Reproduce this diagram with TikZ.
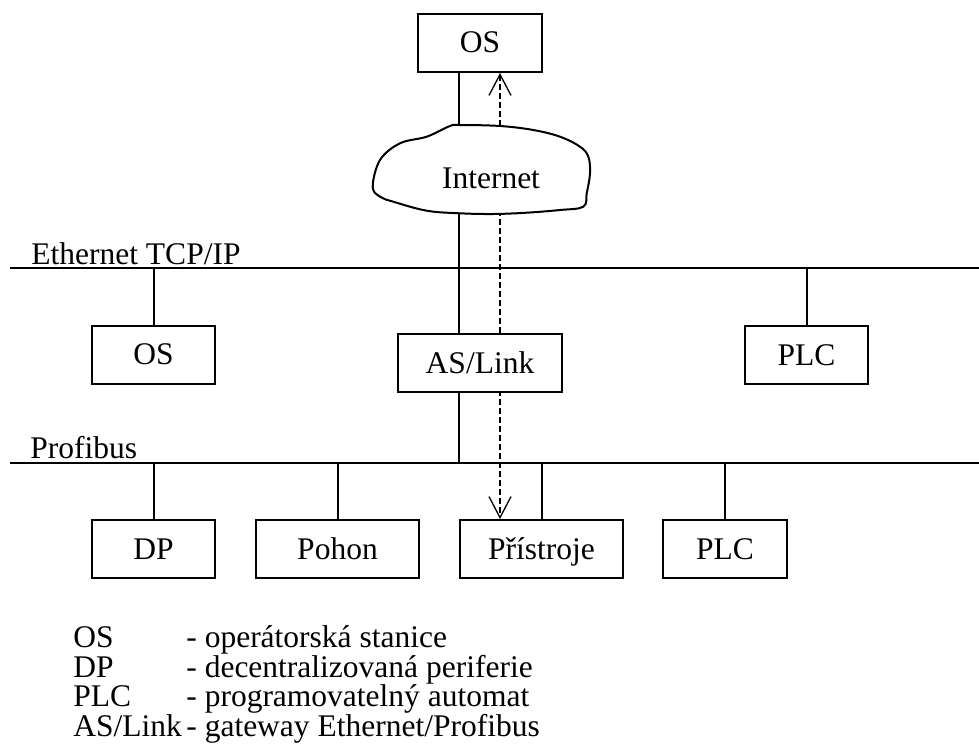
\documentclass[tikz,border=0pt]{standalone}
\usepackage{fontspec}
\setmainfont{Liberation Serif}
\usetikzlibrary{arrows.meta}
\begin{document}
\begin{tikzpicture}[x=0.5pt,y=-0.5pt,
  every node/.style={font=\fontsize{15.75pt}{18pt}\selectfont},
  unit/.style={draw, line width=1pt, fill=white, inner sep=0pt,
    text height=12.5pt, text depth=2.5pt, minimum height=29pt},
  link/.style={line width=1pt},
  bus/.style={line width=1pt},
  cloudline/.style={line width=1pt, fill=white},
  flow/.style={line width=0.65pt, dash pattern=on 3pt off 1.5pt,
    {Straight Barb[length=10.5pt,width=11pt]}-{Straight Barb[length=10.5pt,width=11pt]}},
  lbl/.style={anchor=base west, inner sep=0pt}]
\useasboundingbox (0,0) rectangle (979,749);

% vertical guides for the trunk and the data path
\coordinate (trunk) at (459,0);
\coordinate (flowx) at (500,0);

% buses
\coordinate (ethL) at (10,268);
\coordinate (ethR) at (979,268);
\coordinate (pbL) at (10,463);
\coordinate (pbR) at (979,463);
\draw[bus] (ethL) -- (ethR);
\draw[bus] (pbL) -- (pbR);
\node[lbl] (ethlbl) at (31,264) {Ethernet TCP/IP};
\node[lbl] (pblbl) at (30,458) {Profibus};

% units not crossed by the data path
\node[unit, minimum width=62pt] (ostop) at (480,43) {OS};
\node[unit, minimum width=81.5pt] (pristroje) at (541.5,549) {Přístroje};

% data path from the remote station down to the instruments
\draw[flow] (ostop.south -| flowx) -- (pristroje.north -| flowx);

% internet cloud
\draw[cloudline] plot[smooth cycle, tension=0.6] coordinates {
  (372.7,186.7) (380,160) (400,143.3) (426.7,136.7) (450,126) (460,125)
  (500,126) (533.3,130) (560,136.7) (580,146.7) (588.3,156.7) (590,173.3)
  (586.7,193.3) (583.3,206.7) (560,210) (526.7,212.7) (493.3,214)
  (460,213.3) (426.7,210.7) (393.3,201.7) (380,196.7)};
\node (inet) at (491,178) {Internet};
\coordinate (cloudtop) at (459,125);
\coordinate (cloudbot) at (459,213.3);

% remaining units
\node[unit, minimum width=61.5pt] (osleft) at (153.5,354.5) {OS};
\node[unit, minimum width=82pt] (aslink) at (480,363) {AS/Link};
\node[unit, minimum width=61.5pt] (plcright) at (806.5,355) {PLC};
\node[unit, minimum width=61.5pt] (dp) at (153.5,549) {DP};
\node[unit, minimum width=81.5pt] (pohon) at (337.5,549) {Pohon};
\node[unit, minimum width=62pt] (plc) at (725,549) {PLC};

% connections
\draw[link] (ostop.south -| trunk) -- (cloudtop);
\draw[link] (cloudbot) -- (cloudbot |- ethL);
\draw[link] (aslink.north -| trunk) -- (trunk |- ethL);
\draw[link] (aslink.south -| trunk) -- (trunk |- pbL);
\draw[link] (osleft.north) -- (osleft.north |- ethL);
\draw[link] (plcright.north) -- (plcright.north |- ethL);
\draw[link] (dp.north) -- (dp.north |- pbL);
\draw[link] (pohon.north) -- (pohon.north |- pbL);
\draw[link] (pristroje.north) -- (pristroje.north |- pbL);
\draw[link] (plc.north) -- (plc.north |- pbL);

% legend
\node[lbl] (k1) at (73,647) {OS};
\node[lbl] (k2) at (73,677) {DP};
\node[lbl] (k3) at (73,706) {PLC};
\node[lbl] (k4) at (73,736) {AS/Link};
\node[lbl] (d1) at (186,647) {- operátorská stanice};
\node[lbl] (d2) at (186,677) {- decentralizovaná periferie};
\node[lbl] (d3) at (186,706) {- programovatelný automat};
\node[lbl] (d4) at (186,736) {- gateway Ethernet/Profibus};
\end{tikzpicture}
\end{document}
